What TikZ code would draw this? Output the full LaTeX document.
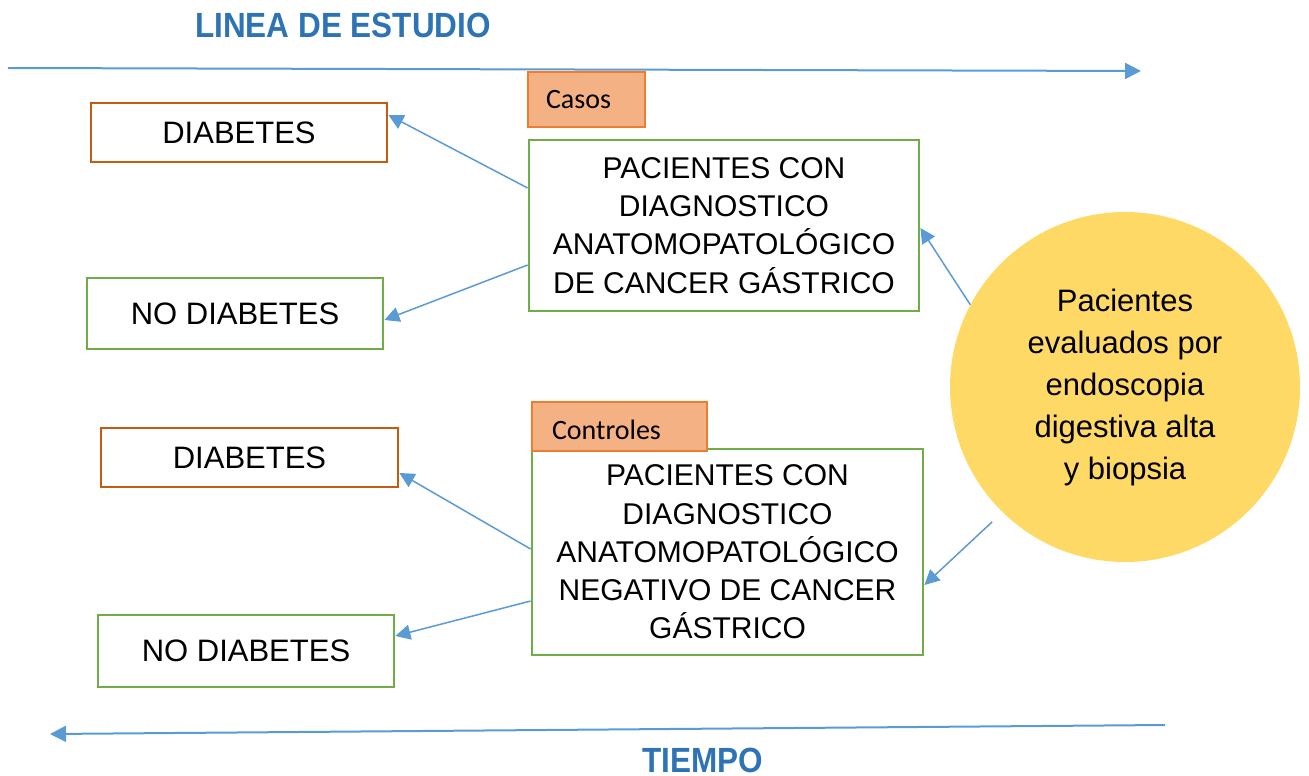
\documentclass[tikz,border=0pt]{standalone}
\usepackage{fontspec}
\setmainfont{Liberation Sans}
\newfontfamily\titlefont[FakeStretch=0.9]{Liberation Sans}
\newfontfamily\calfont{Carlito}
\usetikzlibrary{arrows.meta,calc}
\definecolor{tblue}{HTML}{2E74B5}
\definecolor{ablue}{HTML}{5B9BD5}
\definecolor{gborder}{HTML}{70AD47}
\definecolor{oborder}{HTML}{C55A11}
\definecolor{lborder}{HTML}{ED7D31}
\definecolor{lfill}{HTML}{F4B183}
\definecolor{yfill}{HTML}{FFD966}
\tikzset{
  gbox/.style={draw=gborder,line width=2.8pt,rectangle,align=center,inner sep=0pt,font=\fontsize{31}{38}\selectfont},
  obox/.style={draw=oborder,line width=2.8pt,rectangle,align=center,inner sep=0pt,font=\fontsize{31}{38}\selectfont},
  bigbox/.style={gbox,font=\fontsize{30}{38.3}\selectfont},
  tag/.style={draw=lborder,fill=lfill,line width=1.5pt,rectangle,align=left,inner ysep=0pt,font=\calfont\fontsize{28}{32}\selectfont},
  conn/.style={draw=ablue,line width=1.5pt,-{Triangle[length=15pt,width=15pt]}},
  timeline/.style={draw=ablue,line width=2pt,-{Triangle[length=16pt,width=16pt]}},
  ttl/.style={text=tblue,font=\titlefont\bfseries\fontsize{35}{40}\selectfont}
}
\begin{document}
\begin{tikzpicture}[x=1pt,y=-1pt]
\useasboundingbox (0,0) rectangle (1309,776);
\node[ttl] (title) at (343,25) {LINEA DE ESTUDIO};
\node[ttl,inner ysep=0pt] (tiempo) at (703,760) {TIEMPO};
\coordinate (tl1) at (8,68);
\coordinate (tl2) at (1141,71);
\coordinate (bl1) at (1165,725);
\coordinate (bl2) at (50,734);
\draw[timeline] (tl1) -- (tl2);
\draw[timeline] (bl1) -- (bl2);

\node[tag,minimum width=117pt,minimum height=55pt,text width=81pt] (casos) at (586.5,99.5) {\raisebox{-2pt}{Casos}};
\node[bigbox,minimum width=390pt,minimum height=171pt] (case) at (724,225.5)
  {PACIENTES CON\\DIAGNOSTICO\\ANATOMOPATOLÓGICO\\DE CANCER GÁSTRICO};
\node[obox,minimum width=296pt,minimum height=59pt] (diab1) at (239,132.5) {DIABETES};
\node[gbox,minimum width=296pt,minimum height=71pt] (nodiab1) at (235,313.5) {NO DIABETES};

\node[bigbox,minimum width=391pt,minimum height=206pt] (ctrl) at (727.5,552)
  {PACIENTES CON\\DIAGNOSTICO\\ANATOMOPATOLÓGICO\\NEGATIVO DE CANCER\\GÁSTRICO};
\node[tag,minimum width=175pt,minimum height=49pt,text width=135pt,text depth=0pt,anchor=north] (controles) at (619.5,401) {\raisebox{-8pt}{Controles}};
\node[obox,minimum width=297pt,minimum height=59pt] (diab2) at (249.5,457.5) {DIABETES};
\node[gbox,minimum width=296pt,minimum height=72pt] (nodiab2) at (246,651) {NO DIABETES};

\node[circle,fill=yfill,minimum size=350pt,inner sep=0pt,align=center,font=\fontsize{31}{42}\selectfont] (circ) at (1125,387)
  {Pacientes\\evaluados por\\endoscopia\\digestiva alta\\y biopsia};

\draw[conn] ([yshift=37.5pt]case.west) -- ([yshift=17.5pt]diab1.east);
\draw[conn] ([yshift=-39.5pt]case.west) -- ([yshift=-6.5pt]nodiab1.east);
\draw[conn] (circ.152) -- ([yshift=-2.5pt]case.east);
\draw[conn] ([xshift=-9pt,yshift=-11pt]circ.225) -- ([yshift=-33pt]ctrl.east);
\draw[conn] ([yshift=3pt]ctrl.west) -- ([yshift=-15.5pt]diab2.east);
\draw[conn] ([yshift=-49pt]ctrl.west) -- ([yshift=15pt]nodiab2.east);
\end{tikzpicture}
\end{document}
